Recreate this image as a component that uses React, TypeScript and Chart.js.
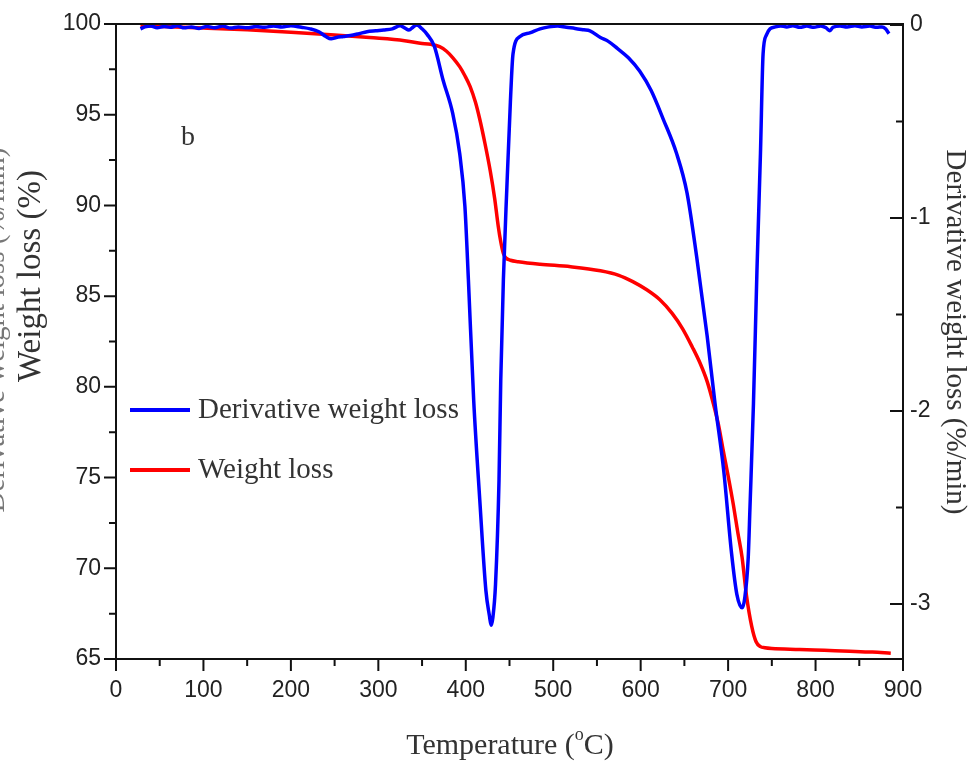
import React, { useEffect, useRef } from "react";
import { Chart, registerables } from "chart.js";

Chart.register(...registerables);

// Derivative weight loss (%/min) vs temperature (°C)
const derivTemps = [28, 33, 40, 47, 55, 62, 70, 78, 86, 95, 104, 113, 122, 131, 140, 150, 160, 170, 180, 190, 200, 212, 222, 232, 240, 246, 252, 260, 268, 278, 287, 297, 306, 316, 325, 330, 335, 340, 344, 350, 356, 364, 374, 385, 393, 399, 403, 409, 416, 423, 427, 429, 431, 434, 438, 440, 443, 447, 451, 454, 462, 474, 485, 495, 505, 515, 525, 535, 542, 554, 563, 573, 586, 599, 612, 626, 641, 653, 664, 676, 685, 695, 704, 710, 716, 719, 723, 725, 729, 733, 737, 740, 744, 748, 754, 760, 767, 774, 782, 790, 798, 806, 812, 816, 820, 828, 836, 845, 853, 862, 870, 876, 880, 884];
const derivValues = [-0.02, -0.01, -0.005, -0.015, -0.008, -0.012, -0.004, -0.015, -0.01, -0.018, -0.008, -0.014, -0.006, -0.016, -0.01, -0.015, -0.008, -0.012, -0.005, -0.01, -0.004, -0.012, -0.02, -0.035, -0.06, -0.072, -0.065, -0.06, -0.055, -0.045, -0.035, -0.03, -0.026, -0.02, -0.004, -0.015, -0.026, -0.01, 0, -0.02, -0.05, -0.11, -0.285, -0.457, -0.665, -0.94, -1.32, -1.94, -2.46, -2.93, -3.06, -3.11, -3.07, -2.9, -2.36, -1.84, -1.32, -0.84, -0.4, -0.15, -0.06, -0.04, -0.02, -0.01, -0.005, -0.012, -0.018, -0.025, -0.03, -0.065, -0.085, -0.12, -0.17, -0.24, -0.34, -0.49, -0.665, -0.87, -1.2, -1.61, -1.96, -2.31, -2.74, -2.95, -3.02, -2.97, -2.76, -2.5, -1.96, -1.27, -0.665, -0.15, -0.05, -0.02, -0.01, -0.005, -0.01, -0.004, -0.012, -0.006, -0.012, -0.005, -0.015, -0.03, -0.012, -0.005, -0.01, -0.004, -0.01, -0.006, -0.012, -0.01, -0.02, -0.045];

// Weight loss (%) vs temperature (°C)
const weightTemps = [28, 60, 100, 150, 200, 250, 290, 330, 348, 360, 370, 378, 385, 393, 399, 405, 411, 416, 422, 428, 433, 437, 440, 443, 446, 451, 460, 485, 520, 554, 575, 591, 607, 622, 636, 648, 659, 668, 676, 683, 689, 694, 700, 706, 711, 716, 721, 727, 732, 737, 742, 750, 782, 810, 839, 865, 886];
const weightValues = [99.9, 99.85, 99.78, 99.68, 99.55, 99.4, 99.25, 99.08, 98.94, 98.88, 98.75, 98.5, 98.15, 97.65, 97.15, 96.55, 95.7, 94.75, 93.4, 91.9, 90.4, 88.9, 88.0, 87.35, 87.1, 86.98, 86.9, 86.76, 86.62, 86.4, 86.15, 85.8, 85.35, 84.8, 84.05, 83.2, 82.2, 81.3, 80.3, 79.1, 77.9, 76.6, 75.1, 73.5, 72.0, 70.6, 68.5, 66.8, 65.95, 65.68, 65.62, 65.58, 65.53, 65.48, 65.43, 65.38, 65.32];

const xTicks = [0, 100, 200, 300, 400, 500, 600, 700, 800, 900];
const xMinorTicks = [50, 150, 250, 350, 450, 550, 650, 750, 850];
const leftTicks = [65, 70, 75, 80, 85, 90, 95, 100];
const leftMinorTicks = [67.5, 72.5, 77.5, 82.5, 87.5, 92.5, 97.5];
const rightTicks = [-3, -2, -1, 0];
const rightMinorTicks = [-2.5, -1.5, -0.5];

const seriesLabels = ["Derivative weight loss", "Weight loss"];
const xTitle = "Temperature (";
const leftTitle = "Weight loss (%)";
const rightTitle = "Derivative weight loss (%/min)";
const panelLabel = "b";

const W = 972;
const H = 762;
const AREA = { left: 116, right: 903, top: 24, bottom: 659 };
const SERIF = '"Liberation Serif", "Times New Roman", serif';
const SANS = '"Liberation Sans", Arial, sans-serif';

const framePlugin = {
  id: "frame",
  afterDraw(chart: any) {
    const ctx = chart.ctx as CanvasRenderingContext2D;
    const { left, right, top, bottom } = chart.chartArea;
    const xs = chart.scales.x;
    const yl = chart.scales.yL;
    const yr = chart.scales.yR;
    ctx.save();
    ctx.strokeStyle = "#111";
    ctx.lineWidth = 2;
    ctx.strokeRect(left, top, right - left, bottom - top);
    ctx.beginPath();
    for (const v of xTicks) {
      const x = xs.getPixelForValue(v);
      ctx.moveTo(x, bottom);
      ctx.lineTo(x, bottom + 12);
    }
    for (const v of xMinorTicks) {
      const x = xs.getPixelForValue(v);
      ctx.moveTo(x, bottom);
      ctx.lineTo(x, bottom + 7);
    }
    for (const v of leftTicks) {
      const y = yl.getPixelForValue(v);
      ctx.moveTo(left, y);
      ctx.lineTo(left - 12, y);
    }
    for (const v of leftMinorTicks) {
      const y = yl.getPixelForValue(v);
      ctx.moveTo(left, y);
      ctx.lineTo(left - 7, y);
    }
    for (const v of rightTicks) {
      const y = yr.getPixelForValue(v);
      ctx.moveTo(right, y);
      ctx.lineTo(right - 13, y);
    }
    for (const v of rightMinorTicks) {
      const y = yr.getPixelForValue(v);
      ctx.moveTo(right, y);
      ctx.lineTo(right - 7, y);
    }
    ctx.stroke();

    // legend
    const legendColors = ["#0000ff", "#ff0000"];
    const legendY = [410, 470];
    ctx.lineWidth = 4;
    ctx.font = `29px ${SERIF}`;
    ctx.textBaseline = "middle";
    ctx.textAlign = "left";
    for (let i = 0; i < 2; i++) {
      ctx.strokeStyle = legendColors[i];
      ctx.beginPath();
      ctx.moveTo(130, legendY[i]);
      ctx.lineTo(190, legendY[i]);
      ctx.stroke();
      ctx.fillStyle = "#333";
      ctx.fillText(seriesLabels[i], 198, legendY[i]);
    }

    // panel label
    ctx.fillStyle = "#333";
    ctx.font = `28px ${SERIF}`;
    ctx.fillText(panelLabel, 181, 138);

    // x title with superscript degree
    ctx.font = `30px ${SERIF}`;
    ctx.textBaseline = "alphabetic";
    const part1 = xTitle;
    const part3 = "C)";
    const w1 = ctx.measureText(part1).width;
    ctx.font = `18px ${SERIF}`;
    const w2 = ctx.measureText("o").width;
    ctx.font = `30px ${SERIF}`;
    const w3 = ctx.measureText(part3).width;
    const total = w1 + w2 + w3;
    const cx = 510;
    const by = 754;
    const x0 = cx - total / 2;
    ctx.fillText(part1, x0, by);
    ctx.font = `18px ${SERIF}`;
    ctx.fillText("o", x0 + w1, by - 14);
    ctx.font = `30px ${SERIF}`;
    ctx.fillText(part3, x0 + w1 + w2, by);

    // left title
    ctx.save();
    ctx.translate(31, 276);
    ctx.rotate(-Math.PI / 2);
    ctx.textAlign = "center";
    ctx.textBaseline = "middle";
    ctx.font = `33px ${SERIF}`;
    ctx.fillText(leftTitle, 0, 0);
    ctx.restore();

    // clipped overlapped title at far left
    ctx.save();
    ctx.translate(4, 330);
    ctx.rotate(-Math.PI / 2);
    ctx.textAlign = "center";
    ctx.textBaseline = "alphabetic";
    ctx.fillStyle = "#777";
    ctx.font = `29px ${SERIF}`;
    ctx.fillText(rightTitle, 0, 0);
    ctx.restore();

    // right title
    ctx.save();
    ctx.translate(955, 332);
    ctx.rotate(Math.PI / 2);
    ctx.textAlign = "center";
    ctx.textBaseline = "middle";
    ctx.fillStyle = "#333";
    ctx.font = `29px ${SERIF}`;
    ctx.fillText(rightTitle, 0, 0);
    ctx.restore();

    ctx.restore();
  },
};

const zeroPad = (s: any) => {
  s.paddingTop = 0;
  s.paddingBottom = 0;
  s.paddingLeft = 0;
  s.paddingRight = 0;
};

export default function App() {
  const ref = useRef<HTMLCanvasElement | null>(null);
  useEffect(() => {
    if (!ref.current) return;
    const derivData = derivTemps.map((t, i) => ({ x: t, y: derivValues[i] }));
    const weightData = weightTemps.map((t, i) => ({ x: t, y: weightValues[i] }));
    const tickFont = { family: SANS, size: 23 };
    const chart = new Chart(ref.current, {
      type: "line",
      data: {
        datasets: [
          {
            label: seriesLabels[0],
            data: derivData,
            yAxisID: "yR",
            borderColor: "#0000ff",
            borderWidth: 3.5,
            pointRadius: 0,
            cubicInterpolationMode: "monotone",
            fill: false,
          },
          {
            label: seriesLabels[1],
            data: weightData,
            yAxisID: "yL",
            borderColor: "#ff0000",
            borderWidth: 3.5,
            pointRadius: 0,
            cubicInterpolationMode: "monotone",
            fill: false,
          },
        ],
      },
      options: {
        animation: false,
        responsive: false,
        maintainAspectRatio: false,
        layout: { padding: { top: AREA.top, left: 0, right: 0, bottom: 0 } },
        plugins: { legend: { display: false }, tooltip: { enabled: false } },
        scales: {
          x: {
            type: "linear",
            position: "bottom",
            min: 0,
            max: 900,
            grid: { display: false, drawTicks: false },
            border: { display: false },
            ticks: { font: tickFont, color: "#222", padding: 18, maxRotation: 0, callback: (v: any) => String(v) },
            afterBuildTicks: (s: any) => { s.ticks = xTicks.map((v) => ({ value: v })); },
            afterFit: (s: any) => { s.height = H - AREA.bottom; zeroPad(s); },
          },
          yL: {
            type: "linear",
            position: "left",
            min: 65,
            max: 100,
            grid: { display: false, drawTicks: false },
            border: { display: false },
            ticks: { font: tickFont, color: "#222", padding: 15, callback: (v: any) => String(v) },
            afterBuildTicks: (s: any) => { s.ticks = leftTicks.map((v) => ({ value: v })); },
            afterFit: (s: any) => { s.width = AREA.left; zeroPad(s); },
          },
          yR: {
            type: "linear",
            position: "right",
            min: -3.285,
            max: 0.005,
            grid: { display: false, drawTicks: false },
            border: { display: false },
            ticks: { font: tickFont, color: "#222", padding: 7, callback: (v: any) => String(v) },
            afterBuildTicks: (s: any) => { s.ticks = rightTicks.map((v) => ({ value: v })); },
            afterFit: (s: any) => { s.width = W - AREA.right; zeroPad(s); },
          },
        },
      },
      plugins: [framePlugin],
    } as any);
    return () => chart.destroy();
  }, []);
  return (
    <div style={{ position: "absolute", left: 0, top: 0, width: W, height: H, background: "#fff" }}>
      <canvas ref={ref} width={W} height={H} style={{ width: W, height: H, display: "block" }} />
    </div>
  );
}
